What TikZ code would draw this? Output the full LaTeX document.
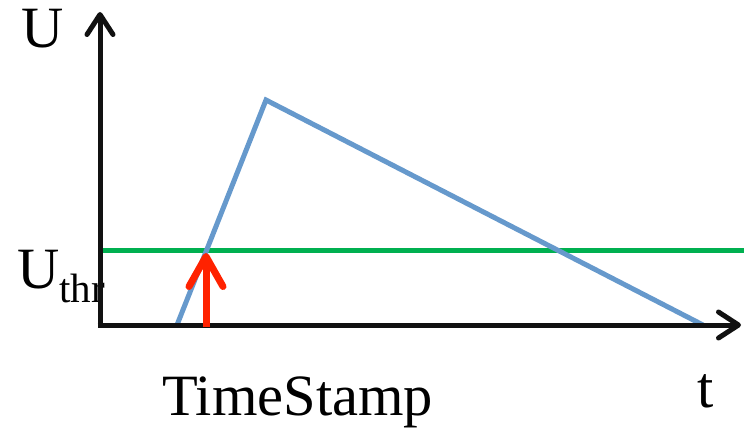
\documentclass[tikz,border=0pt]{standalone}
\usepackage{fontspec}
\setmainfont{Liberation Serif}
\usepackage{tikz}
\usetikzlibrary{arrows.meta}
\definecolor{axisblack}{RGB}{17,17,17}
\definecolor{spikeblue}{RGB}{102,153,204}
\definecolor{thrgreen}{RGB}{0,176,80}
\definecolor{stampred}{RGB}{255,34,0}

\begin{document}
\begin{tikzpicture}[x=1pt, y=-1pt,
		axis/.style={line width=5pt, draw=axisblack, -{Straight Barb[length=20pt, width=26pt, line width=5pt, round]}},
		potential/.style={line width=5pt, draw=spikeblue, line join=miter},
		threshold/.style={line width=5pt, draw=thrgreen},
		stamp/.style={line width=7pt, draw=stampred, -{Straight Barb[length=30pt, width=34pt, line width=7pt, round]}},
		lbl/.style={inner sep=0pt, anchor=base west, font=\fontsize{58.5}{60}\selectfont},
	]
		\useasboundingbox (0,0) rectangle (744,433);

		% Beschriftungen
		\node[lbl] (ulabel) at (21,48) {U};
		\node[lbl] (thrlabel) at (17,288) {U\raisebox{-14pt}{\fontsize{41}{42}\selectfont thr}};
		\node[lbl] (tslabel) at (162,415) {TimeStamp};
		\node[lbl] (tlabel) at (697,407) {t};

		% Punkte
		\coordinate (origin) at (100,327);
		\coordinate (ytip) at (100,12);
		\coordinate (xtip) at (741,325);
		\coordinate (rise) at (177,325);
		\coordinate (peak) at (266,100);
		\coordinate (fall) at (703,325);
		\coordinate (thrleft) at (100,250);
		\coordinate (thrright) at (744,250);
		\coordinate (stampfoot) at (206,327);
		\coordinate (stamphead) at (206,253);

		% Schwelle und Potential
		\draw[threshold] (thrleft) -- (thrright);
		\draw[potential] (rise) -- (peak) -- (fall);

		% Achsen
		\draw[axis] (origin) -- (ytip);
		\draw[axis] ([xshift=-2.5pt]origin |- xtip) -- (xtip);

		% Zeitstempel
		\draw[stamp] (stampfoot) -- (stamphead);
	\end{tikzpicture}
\end{document}
